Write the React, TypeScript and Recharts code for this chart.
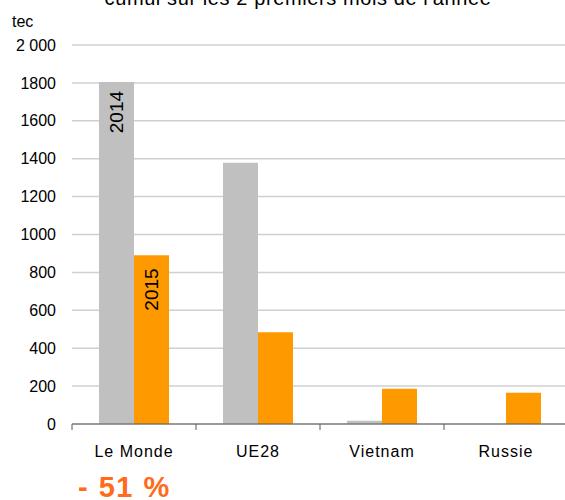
import { BarChart, Bar, XAxis, YAxis, CartesianGrid, LabelList } from "recharts";

const categories = ["Le Monde", "UE28", "Vietnam", "Russie"];
const values2014 = [1805, 1379, 17, 0];
const values2015 = [890, 484, 186, 165];
const yTicks = [0, 200, 400, 600, 800, 1000, 1200, 1400, 1600, 1800, 2000];

const data = categories.map((name, i) => ({
  name,
  y2014: values2014[i],
  y2015: values2015[i],
}));

const FONT = "'Liberation Sans', Arial, sans-serif";
const BAND = 124;

function XTick(props: any) {
  const { x, y, payload } = props;
  return (
    <g>
      <line x1={x - BAND / 2} y1={y} x2={x - BAND / 2} y2={y + 6} stroke="#595959" />
      <text
        x={x}
        y={y + 33}
        textAnchor="middle"
        fontSize={16}
        fontFamily={FONT}
        letterSpacing={1}
        fill="#000"
      >
        {payload.value}
      </text>
    </g>
  );
}

function seriesLabel(name: string, gap: number) {
  return (props: any) => {
    const { x, y, width, index } = props;
    if (index !== 0) return null;
    const cx = x + width / 2 + 7;
    const cy = y + gap;
    return (
      <text
        x={cx}
        y={cy}
        textAnchor="end"
        fontSize={19}
        fontFamily={FONT}
        fill="#000"
        transform={`rotate(-90, ${cx}, ${cy})`}
      >
        {name}
      </text>
    );
  };
}

export default function App() {
  return (
    <div style={{ position: "absolute", left: 0, top: 0, width: 565, height: 500, overflow: "hidden", background: "#fff" }}>
      <BarChart
        width={568}
        height={500}
        data={data}
        margin={{ top: 45, right: 0, bottom: 46, left: 8 }}
        barGap={0}
        barSize={35}
      >
        <CartesianGrid vertical={false} stroke="#d0d0d0" strokeWidth={1.5} />
        <XAxis
          dataKey="name"
          height={30}
          axisLine={{ stroke: "#595959" }}
          tickLine={false}
          tickSize={0}
          tickMargin={0}
          tick={<XTick />}
          interval={0}
        />
        <YAxis
          width={64}
          domain={[0, 2000]}
          ticks={yTicks}
          axisLine={false}
          tickLine={false}
          tickSize={0}
          tickMargin={16}
          tickFormatter={(v: number) => (v === 2000 ? "2 000" : String(v))}
          tick={{ fontSize: 16, fontFamily: FONT, fill: "#000" }}
        />
        <Bar dataKey="y2014" fill="#c0c0c0" isAnimationActive={false}>
          <LabelList dataKey="y2014" content={seriesLabel("2014", 9)} />
        </Bar>
        <Bar dataKey="y2015" fill="#ff9900" isAnimationActive={false}>
          <LabelList dataKey="y2015" content={seriesLabel("2015", 13)} />
        </Bar>
      </BarChart>
      <svg width={565} height={500} style={{ position: "absolute", left: 0, top: 0, pointerEvents: "none" }}>
        <text x={298} y={5} textAnchor="middle" fontSize={20} letterSpacing={0.6} fontFamily={FONT} fill="#000">
          cumul sur les 2 premiers mois de l'année
        </text>
        <text x={12} y={27} fontSize={16} fontFamily={FONT} fill="#000">
          tec
        </text>
        <text x={78} y={497} fontSize={29} letterSpacing={1.5} fontWeight="bold" fontFamily={FONT} fill="#ff6b1a">
          - 51 %
        </text>
      </svg>
    </div>
  );
}
